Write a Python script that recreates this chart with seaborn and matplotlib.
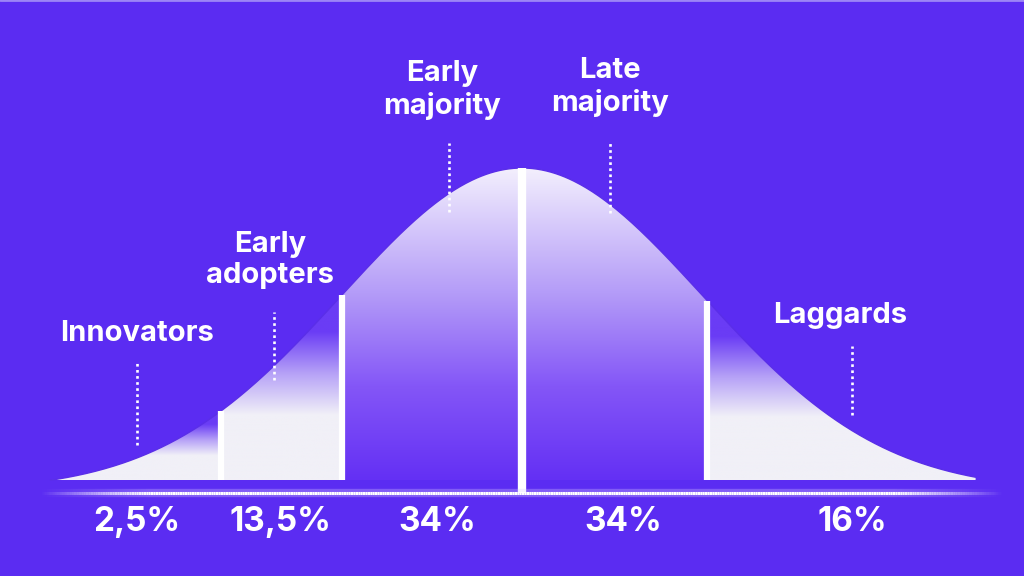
import numpy as np
import pandas as pd
import matplotlib.pyplot as plt
import seaborn as sns
from matplotlib.colors import LinearSegmentedColormap
from matplotlib.collections import LineCollection
from matplotlib.patches import Polygon

sns.set_theme(style="white")
plt.rcParams['font.family'] = ['Inter', 'DejaVu Sans']

# --- data -------------------------------------------------------------
segments = ["Innovators", "Early\nadopters", "Early\nmajority", "Late\nmajority", "Laggards"]
shares = ["2,5%", "13,5%", "34%", "34%", "16%"]
# segment edges along the bell, in standard deviations from the mean
edges = [-2.62, -1.67, -1.0, 0.0, 1.03, 2.52]
tail_segment = [True, True, False, False, True]

# --- layout (sd units across, peak height = 1 up) ---------------------
label_x = [-2.14, -1.40, -0.444, 0.489, 1.767]
label_y = [0.471, 0.705, 1.25, 1.26, 0.526]
pointer_x = [-2.14, -1.378, -0.406, 0.489, 1.833]
pointer_top = [0.378, 0.538, 1.080, 1.080, 0.429]
pointer_bottom = [0.112, 0.321, 0.859, 0.856, 0.208]
share_x = [-2.14, -1.344, -0.472, 0.561, 1.833]
share_y = -0.135
base_y = -0.042

BG = '#5b2cf2'
tail_cmap = LinearSegmentedColormap.from_list(
    'tail', [(0, '#f1f0f7'), (0.35, '#f1f0f7'), (0.57, '#b7a3f7'), (0.8, '#6a3cf5'), (1, '#6a3cf5')])
mid_cmap = LinearSegmentedColormap.from_list(
    'mid', [(0, '#6430f4'), (0.3, '#8456f7'), (0.6, '#b49cf8'), (1, '#f3effd')])

tail_end = np.exp(-2.61 ** 2 / 2)


def bell(z):
    return np.clip((np.exp(-np.asarray(z) ** 2 / 2) - tail_end) / (1 - tail_end), 0, None)


fig = plt.figure(figsize=(10.24, 5.76), dpi=100)
fig.patch.set_facecolor(BG)
ax = fig.add_axes([0, 0, 1, 1])
ax.set_facecolor(BG)

grad = np.linspace(0, 1, 256)[:, None]
for i in range(len(segments)):
    lo, hi = edges[i], edges[i + 1]
    zz = np.linspace(lo, hi, 300)
    hh = bell(zz)
    verts = np.column_stack([np.r_[zz, hi, lo], np.r_[hh, 0, 0]])
    poly = Polygon(verts, closed=True, facecolor='none', edgecolor='none')
    ax.add_patch(poly)
    img = ax.imshow(grad, cmap=tail_cmap if tail_segment[i] else mid_cmap,
                    extent=[lo, hi, 0, hh.max()], origin='lower', aspect='auto', zorder=2)
    img.set_clip_path(poly)

# bell outline
z = np.linspace(edges[0], edges[-1], 600)
curve = pd.DataFrame({'z': z, 'h': bell(z)})
sns.lineplot(data=curve, x='z', y='h', color='#5a2ee8', lw=1.0, ax=ax, zorder=3)

# white dividers between segments
for e in edges[1:-1]:
    bottom = base_y if e == 0 else 0
    ax.vlines(e, bottom, bell(e), color='white', lw=6.0 if e == 0 else 4.5, zorder=4)

# glowing base line
lx = np.linspace(-2.68, 2.66, 400)
fade = np.clip(np.minimum(lx - lx[0], lx[-1] - lx) / 0.6, 0, 1)
pts = np.column_stack([lx, np.full_like(lx, base_y)])
segs = np.stack([pts[:-1], pts[1:]], axis=1)
ax.add_collection(LineCollection(segs, colors=[(0.85, 0.8, 1, 0.3 * a) for a in fade[:-1]],
                                 linewidths=6, zorder=4))
ax.add_collection(LineCollection(segs, colors=[(1, 1, 1, a) for a in fade[:-1]],
                                 linewidths=2.2, zorder=5))

# labels and dotted pointers
for name, x, y in zip(segments, label_x, label_y):
    ax.text(x, y, name, color='white', fontsize=21, fontweight='bold',
            ha='center', va='center', linespacing=1.22, zorder=6)
ax.vlines(pointer_x, pointer_bottom, pointer_top, color='white', lw=1.9,
          linestyles=[(0, (1, 1.3))], zorder=6)

for s, x in zip(shares, share_x):
    ax.text(x, share_y, s, color='white', fontsize=24, fontweight='bold',
            ha='center', va='center', zorder=6)

ax.set_xlim(-522 / 180, (1024 - 522) / 180)
ax.set_ylim(-96 / 312, 480 / 312)
ax.axhline(480 / 312, color='#9d85f6', lw=2.0, zorder=7)
ax.axis('off')

fig.savefig('out.png', dpi=100, facecolor=BG)
